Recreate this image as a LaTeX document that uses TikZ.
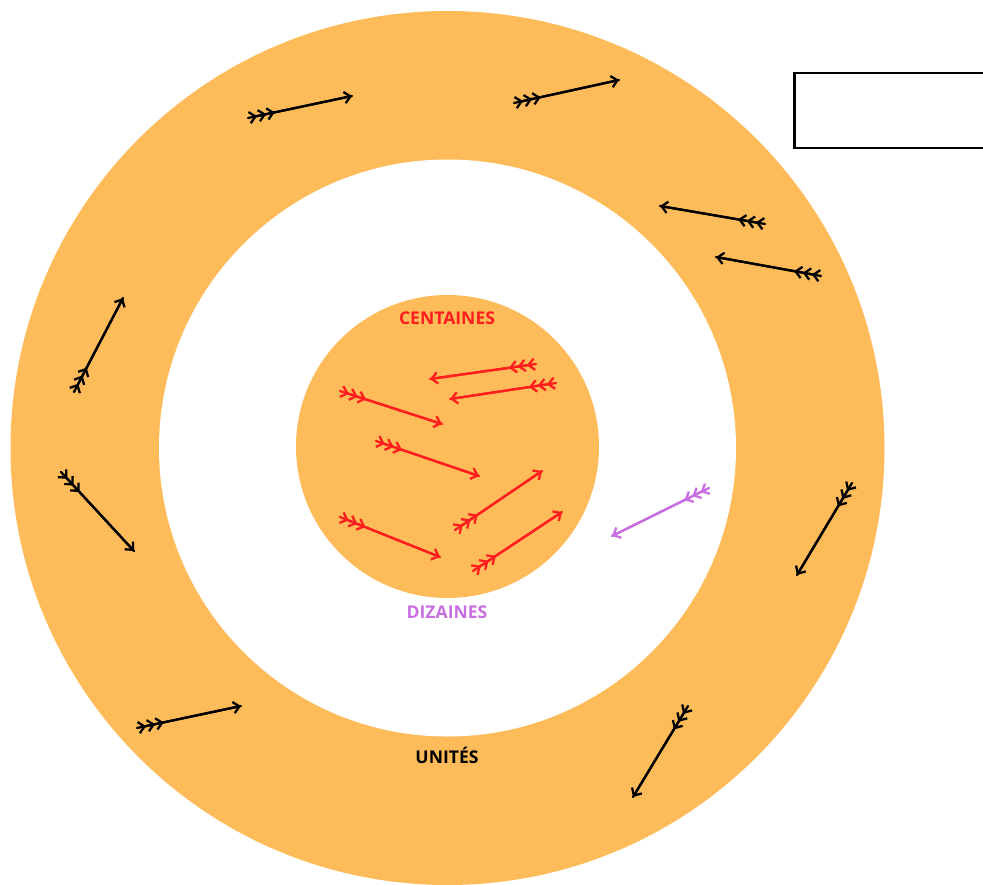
\documentclass[tikz,border=0pt]{standalone}
\usepackage{fontspec}
\setmainfont{Open Sans}
\usepackage{tkz-euclide}
\usetikzlibrary{arrows.meta}
\definecolor{ring}{HTML}{FDBB5A}
\definecolor{cent}{HTML}{FF1E1E}
\definecolor{diz}{HTML}{C86EE0}

\tikzset{
  barb/.tip={Straight Barb[length=3.4pt,width=6.5pt]},
  fletch/.style={line width=1.3pt,line cap=round,-barb,
    postaction={draw,arrows={barb[reversed,sep=0.3pt]barb[reversed,sep=0.3pt]barb[reversed]-}}},
  lbl/.style={font=\bfseries\fontsize{10}{12}\selectfont},
}

\begin{document}
\begin{tikzpicture}[x=0.02cm,y=-0.02cm]
    \useasboundingbox (0,0) rectangle (983,885);
    \tkzDefPoint(447.5,448){O}
    % rings
    \fill[ring] (O) circle[radius=437];
    \fill[white] (O) circle[radius=288.5];
    \fill[ring] (447.5,446.5) circle[radius=151.5];
    \draw[line width=1.7pt] (794,73) rectangle (1000,148);
    % unites
    \tkzDefPoints{248/118/u1, 352/96/u2, 514/103/u3, 619/80/u4,
      765/224/u5, 660/206/u6, 821/276/u7, 716/257/u8,
      74/392/u9, 123/298/u10, 61/472/u11, 134/551/u12,
      852/483/u13, 797/575/u14, 137/728/u15, 241/706/u16,
      688/706/u17, 633/797/u18}
    \tkzDrawSegments[fletch](u1,u2 u3,u4 u5,u6 u7,u8 u9,u10 u11,u12 u13,u14 u15,u16 u17,u18)
    % centaines
    \tkzDefPoints{536/364/c1, 430/379/c2, 556/383/c3, 450/399/c4,
      340/391/c5, 442/424/c6, 376/441/c7, 479/476/c8,
      340/517/c9, 440/557/c10, 455/530/c11, 542/471/c12,
      473/571/c13, 562/512/c14}
    \tkzDrawSegments[fletch,cent](c1,c2 c3,c4 c5,c6 c7,c8 c9,c10 c11,c12 c13,c14)
    % dizaines
    \tkzDefPoints{709/488/d1, 612/536/d2}
    \tkzDrawSegments[fletch,diz](d1,d2)
    \node[lbl,cent] (centaines) at (447,318) {CENTAINES};
    \node[lbl,diz] (dizaines) at (447,612) {DIZAINES};
    \node[lbl] (unites) at (447,755) {UNITÉS};
  \end{tikzpicture}
\end{document}
